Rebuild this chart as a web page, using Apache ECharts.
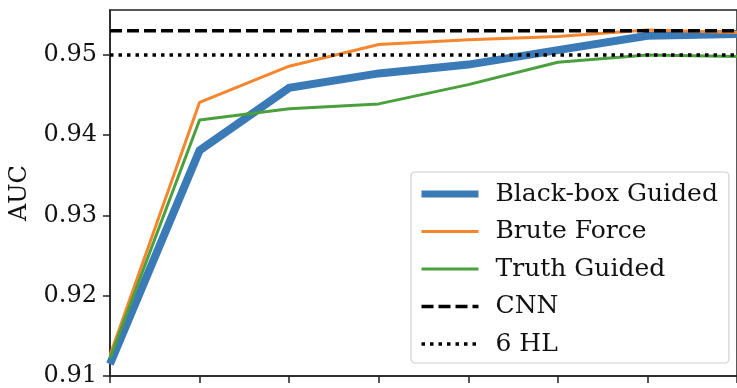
<!DOCTYPE html>
<html>
<head>
<meta charset="utf-8">
<script src="https://cdn.jsdelivr.net/npm/echarts@6/dist/echarts.min.js"></script>
<style>
html,body{margin:0;padding:0;background:#fff;}
#chart{width:737px;height:388px;}
</style>
</head>
<body>
<div id="chart"></div>
<script>
// x positions (tick labels are cropped out of the picture)
const xCategories = ['0', '1', '2', '3', '4', '5', '6', '7'];
const yTicks = [0.91, 0.92, 0.93, 0.94, 0.95];

const blackBoxGuided = [0.9115, 0.9381, 0.9459, 0.9477, 0.9488, 0.9506, 0.9524, 0.9526];
const bruteForce     = [0.9126, 0.9441, 0.9486, 0.9513, 0.9519, 0.9523, 0.9531, 0.9528];
const truthGuided    = [0.9122, 0.9419, 0.9433, 0.9439, 0.9463, 0.9491, 0.9500, 0.9498];
const cnn            = [0.9530, 0.9530, 0.9530, 0.9530, 0.9530, 0.9530, 0.9530, 0.9530];
const hl6            = [0.9500, 0.9500, 0.9500, 0.9500, 0.9500, 0.9500, 0.9500, 0.9500];

const FONT = 'DejaVu Serif';
const chart = echarts.init(document.getElementById('chart'), null, {renderer: 'canvas'});

const colors = {
  blue: '#3a7ab6',
  orange: '#f5862e',
  green: '#4aa03c',
  black: '#000000'
};
const noSymbol = {color: 'rgba(0,0,0,0)', borderWidth: 0, opacity: 0};

chart.setOption({
  animation: false,
  backgroundColor: '#ffffff',
  grid: {
    left: 105, top: 10, width: 637, bottom: 11,
    show: true, borderColor: '#222', borderWidth: 1.5, backgroundColor: 'transparent'
  },
  xAxis: {
    type: 'category',
    data: xCategories,
    boundaryGap: false,
    axisLine: {show: true, lineStyle: {color: '#222', width: 1.5}},
    axisTick: {show: true, inside: false, length: 7, lineStyle: {color: '#222', width: 1.5}},
    axisLabel: {show: false},
    splitLine: {show: false}
  },
  yAxis: {
    type: 'value',
    min: 0.91,
    max: 0.9556,
    interval: 0.01,
    name: 'AUC',
    nameLocation: 'middle',
    nameGap: 78,
    nameRotate: 90,
    nameTextStyle: {fontFamily: FONT, fontSize: 24, color: '#111'},
    axisLine: {show: true, lineStyle: {color: '#222', width: 1.5}},
    axisTick: {show: true, length: 7, customValues: yTicks, lineStyle: {color: '#222', width: 1.5}},
    axisLabel: {
      customValues: yTicks,
      fontFamily: FONT, fontSize: 24, color: '#111', margin: 13,
      formatter: v => v.toFixed(2)
    },
    splitLine: {show: false}
  },
  legend: {
    orient: 'vertical',
    left: 411, top: 172,
    padding: [8, 11, 5, 7],
    itemWidth: 57, itemHeight: 14, itemGap: 9.5,
    backgroundColor: 'rgba(255,255,255,0.85)',
    borderColor: '#d0d0d0', borderWidth: 1.2, borderRadius: 4,
    itemStyle: noSymbol,
    textStyle: {fontFamily: FONT, fontSize: 25, color: '#111', lineHeight: 28, padding: [0,0,0,12]},
    data: [
      {name: 'Black-box Guided', lineStyle: {width: 7}, itemStyle: noSymbol},
      {name: 'Brute Force', lineStyle: {width: 3}, itemStyle: noSymbol},
      {name: 'Truth Guided', lineStyle: {width: 3}, itemStyle: noSymbol},
      {name: 'CNN', lineStyle: {width: 3.5, type: [12, 5]}, itemStyle: noSymbol},
      {name: '6 HL', lineStyle: {width: 3.5, type: [3.5, 5]}, itemStyle: noSymbol}
    ]
  },
  series: [
    {name: 'Black-box Guided', type: 'line', data: blackBoxGuided, symbol: 'none',
     lineStyle: {color: colors.blue, width: 8, join: 'miter'}, itemStyle: {color: colors.blue}},
    {name: 'Brute Force', type: 'line', data: bruteForce, symbol: 'none',
     lineStyle: {color: colors.orange, width: 3}, itemStyle: {color: colors.orange}},
    {name: 'Truth Guided', type: 'line', data: truthGuided, symbol: 'none',
     lineStyle: {color: colors.green, width: 3}, itemStyle: {color: colors.green}},
    {name: 'CNN', type: 'line', data: cnn, symbol: 'none',
     lineStyle: {color: colors.black, width: 3.5, type: [12, 5]}, itemStyle: {color: colors.black}},
    {name: '6 HL', type: 'line', data: hl6, symbol: 'none',
     lineStyle: {color: colors.black, width: 3.5, type: [3.5, 5]}, itemStyle: {color: colors.black}}
  ]
});
</script>
</body>
</html>
